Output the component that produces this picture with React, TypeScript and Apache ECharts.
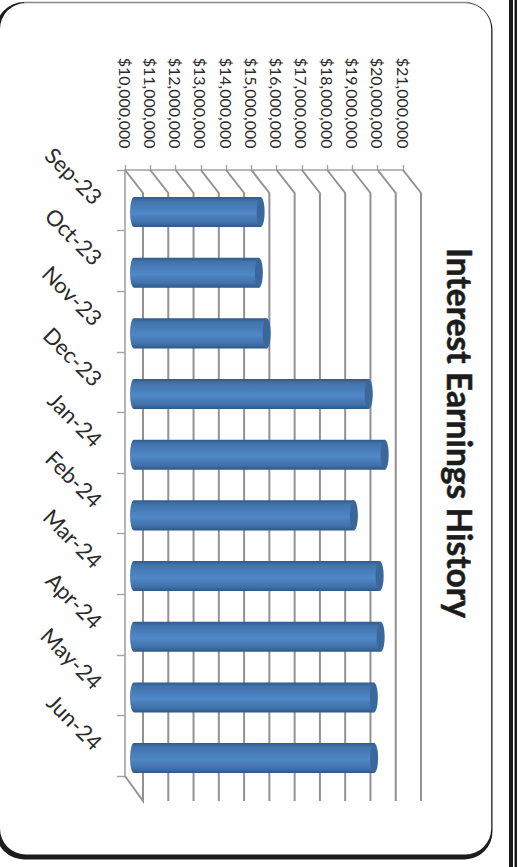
import React, { useEffect, useRef } from "react";
import * as echarts from "echarts";

const months = ["Sep-23", "Oct-23", "Nov-23", "Dec-23", "Jan-24", "Feb-24", "Mar-24", "Apr-24", "May-24", "Jun-24"];
const earnings = [15010000, 14940000, 15250000, 19290000, 19920000, 18700000, 19720000, 19760000, 19490000, 19500000];
const axisTicks = [10000000, 11000000, 12000000, 13000000, 14000000, 15000000, 16000000, 17000000, 18000000, 19000000, 20000000, 21000000];
const axisMin = 10000000;
const axisMax = 21000000;
const chartTitle = "Interest Earnings History";

const FONT = "Lato";
const GRID_COLOR = "#929292";
const TEXT_COLOR = "#2b2b2b";
// Pixel offset from the front plane to the back wall of the 3D box.
const DEPTH_X = 18;
const DEPTH_Y = 23;

const formatDollars = (v: number) => "$" + v.toLocaleString("en-US");

// Diagonal floor edge plus vertical wall line for each value tick.
function renderWall(params: any, api: any) {
  const cs = params.coordSys;
  const x = api.coord([api.value(0), 0])[0];
  const top = cs.y;
  const bottom = cs.y + cs.height;
  const points: number[][] = [
    [x, top],
    [x + DEPTH_X, top + DEPTH_Y],
    [x + DEPTH_X, bottom + DEPTH_Y + 2],
  ];
  if (params.dataIndex === 0) points.push([x, bottom]);
  return {
    type: "polyline",
    shape: { points },
    style: { stroke: GRID_COLOR, lineWidth: 2, fill: "none" },
  };
}

// One horizontal cylinder: a body with a rounded far end and a darker end cap.
function renderCylinder(params: any, api: any) {
  const start = api.coord([axisMin, api.value(1)]);
  const end = api.coord([api.value(0), api.value(1)]);
  const thickness = api.size([0, 1])[1] * 0.495;
  const ry = thickness / 2;
  const rx = 4;
  const y0 = start[1] - ry;
  const y1 = start[1] + ry;
  const x0 = start[0];
  const x1 = end[0];
  const d = `M ${x0} ${y0} L ${x1} ${y0} L ${x1} ${y1} L ${x0} ${y1} A ${rx} ${ry} 0 0 1 ${x0} ${y0} Z`;
  return {
    type: "group",
    children: [
      {
        type: "path",
        shape: { pathData: d, layout: "cover", x: x0 - rx, y: y0, width: x1 - x0 + rx, height: thickness },
        style: {
          fill: new echarts.graphic.LinearGradient(0, 0, 0, 1, [
            { offset: 0, color: "#2f5b8e" },
            { offset: 0.14, color: "#4274ad" },
            { offset: 0.55, color: "#5087c6" },
            { offset: 0.86, color: "#4070a9" },
            { offset: 1, color: "#2d5788" },
          ]),
        },
      },
      {
        type: "ellipse",
        shape: { cx: x1, cy: start[1], rx, ry },
        style: { fill: "#3a689d" },
      },
    ],
  };
}

const frameElements = [
  // right-hand double rule
  { type: "rect", shape: { x: 509, y: 0, width: 4, height: 867 }, style: { fill: "#1a1a1a" } },
  { type: "rect", shape: { x: 514.5, y: 0, width: 2.5, height: 867 }, style: { fill: "#1a1a1a" } },
  // heavy lower edge of the panel, then the white panel over it
  { type: "rect", shape: { x: -4, y: 2, width: 496.5, height: 857.5, r: 28 }, style: { fill: "#1c1c1c" } },
  { type: "rect", shape: { x: 0, y: 3, width: 491.2, height: 851.5, r: 26 }, style: { fill: "#ffffff" } },
  { type: "line", shape: { x1: 24, y1: 2.5, x2: 468, y2: 2.5 }, style: { stroke: "#8a8a8a", lineWidth: 1.5 } },
  {
    type: "text",
    x: 460,
    y: 433,
    rotation: -Math.PI / 2,
    style: {
      text: chartTitle,
      fontFamily: FONT,
      fontWeight: "bold",
      fontSize: 33.5,
      fill: "#1c1c1c",
      stroke: "#1c1c1c",
      lineWidth: 0.5,
      textAlign: "center",
      textVerticalAlign: "middle",
    },
  },
];

export default function App() {
  const ref = useRef<HTMLDivElement>(null);

  useEffect(() => {
    const chart = echarts.init(ref.current!, undefined, { renderer: "svg" });
    chart.setOption({
      animation: false,
      backgroundColor: "#ffffff",
      graphic: { elements: frameElements.map((e) => ({ ...e, z: -10 })) },
      grid: [
        { left: 125, top: 170, width: 278, height: 606 },
        { left: 134, top: 181.7, width: 278, height: 606.7 },
      ],
      xAxis: [
        {
          gridIndex: 0,
          type: "value",
          position: "top",
          min: axisMin,
          max: axisMax,
          interval: 1000000,
          splitLine: { show: false },
          axisLine: { show: true, lineStyle: { color: "#a3a3a3", width: 1.6 } },
          axisTick: { show: true, length: 5, lineStyle: { color: "#a3a3a3", width: 1.4 } },
          axisLabel: {
            rotate: 90,
            margin: 21.5,
            fontFamily: FONT,
            fontSize: 16,
            color: TEXT_COLOR,
            formatter: formatDollars,
          },
        },
        { gridIndex: 1, type: "value", min: axisMin, max: axisMax, show: false },
      ],
      yAxis: [
        {
          gridIndex: 0,
          type: "category",
          inverse: true,
          data: months,
          axisLine: { show: true, lineStyle: { color: "#a3a3a3", width: 1.6 } },
          axisTick: { show: true, length: 8, alignWithLabel: false, lineStyle: { color: "#a3a3a3", width: 1.4 } },
          axisLabel: {
            rotate: -45,
            margin: 26.5,
            fontFamily: FONT,
            fontSize: 22,
            color: TEXT_COLOR,
          },
        },
        { gridIndex: 1, type: "category", inverse: true, data: months, show: false },
      ],
      series: [
        {
          type: "custom",
          xAxisIndex: 0,
          yAxisIndex: 0,
          data: axisTicks.map((v) => [v]),
          encode: { x: 0 },
          renderItem: renderWall,
          clip: false,
          silent: true,
          z: 1,
        },
        {
          type: "custom",
          xAxisIndex: 1,
          yAxisIndex: 1,
          data: earnings.map((v, i) => [v, i]),
          encode: { x: 0, y: 1 },
          renderItem: renderCylinder,
          clip: false,
          z: 2,
        },
      ],
    });
    return () => chart.dispose();
  }, []);

  return <div ref={ref} style={{ position: "absolute", left: 0, top: 0, width: 522, height: 867 }} />;
}
